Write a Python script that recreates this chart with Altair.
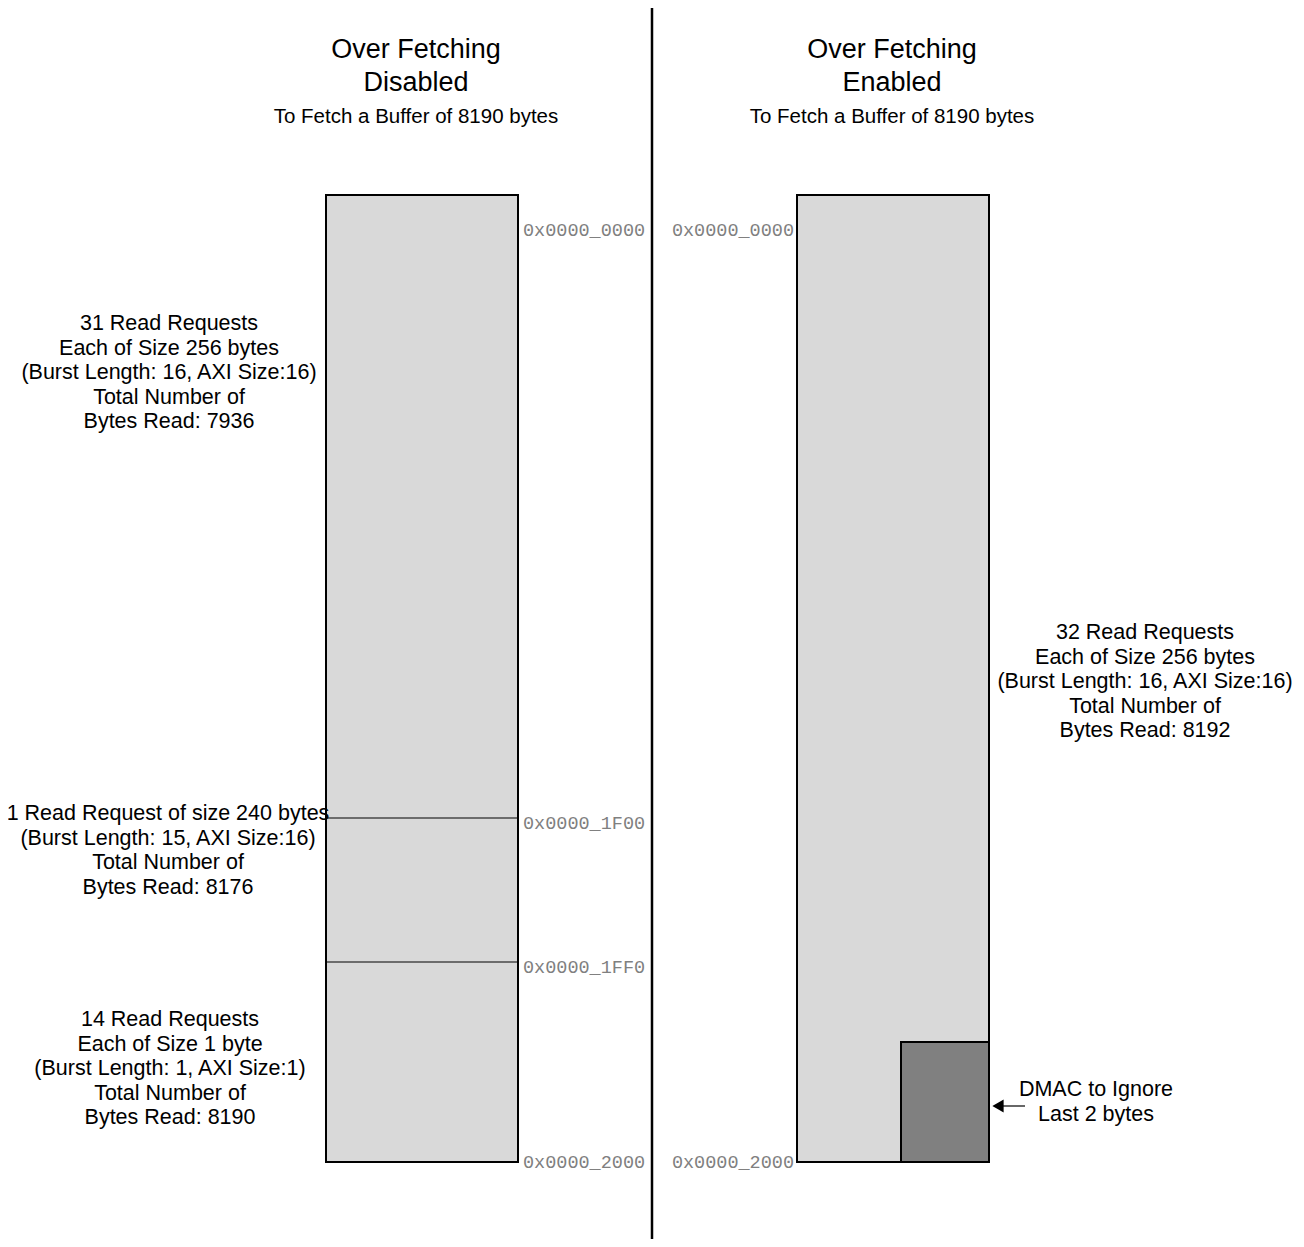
import altair as alt
import pandas as pd

# ---- content ----
panel_titles = ["Over Fetching\nDisabled", "Over Fetching\nEnabled"]
panel_subtitle = "To Fetch a Buffer of 8190 bytes"
panel_cx = [416, 892]

left_addresses = ["0x0000_0000", "0x0000_1F00", "0x0000_1FF0", "0x0000_2000"]
left_addr_y = [230, 823, 967, 1162]
right_addresses = ["0x0000_0000", "0x0000_2000"]
right_addr_y = [230, 1162]

left_blocks = [
    "31 Read Requests\nEach of Size 256 bytes\n(Burst Length: 16, AXI Size:16)\nTotal Number of\nBytes Read: 7936",
    "1 Read Request of size 240 bytes\n(Burst Length: 15, AXI Size:16)\nTotal Number of\nBytes Read: 8176",
    "14 Read Requests\nEach of Size 1 byte\n(Burst Length: 1, AXI Size:1)\nTotal Number of\nBytes Read: 8190",
]
left_block_x = [169, 168, 170]
left_block_top = [324, 814, 1020]

right_block = "32 Read Requests\nEach of Size 256 bytes\n(Burst Length: 16, AXI Size:16)\nTotal Number of\nBytes Read: 8192"
right_block_xy = (1145, 633)
dmac_note = "DMAC to Ignore\nLast 2 bytes"
dmac_xy = (1096, 1090)

# ---- layout (diagram units = page pixels) ----
box_x0 = [326, 797, 901]
box_x1 = [518, 989, 989]
box_y0 = [195, 195, 1042]
box_y1 = [1162, 1162, 1162]
box_fill = ["#d9d9d9", "#d9d9d9", "#808080"]
split_y = [818, 962]
divider_x = 652

W, H = 1288, 1231
xs = alt.Scale(domain=[8, 8 + W], nice=False, zero=False)
ys = alt.Scale(domain=[8, 8 + H], nice=False, zero=False, reverse=True)
X = lambda f: alt.X(f, type="quantitative", scale=xs, axis=None)
Y = lambda f: alt.Y(f, type="quantitative", scale=ys, axis=None)

boxes = pd.DataFrame({"x0": box_x0, "x1": box_x1, "y0": box_y0, "y1": box_y1, "fill": box_fill})
box_layer = alt.Chart(boxes).mark_rect(stroke="black", strokeWidth=2).encode(
    x=X("x0"), x2="x1", y=Y("y0"), y2="y1",
    fill=alt.Fill("fill:N", scale=None),
)

splits = pd.DataFrame({"y": split_y, "x0": [box_x0[0]] * 2, "x1": [box_x1[0]] * 2})
split_layer = alt.Chart(splits).mark_rule(color="black", strokeWidth=1.2).encode(
    x=X("x0"), x2="x1", y=Y("y")
)

div = pd.DataFrame({"x": [divider_x], "y0": [6], "y1": [1250]})
div_layer = alt.Chart(div).mark_rule(color="black", strokeWidth=2.5).encode(
    x=X("x"), y=Y("y0"), y2="y1"
)

arrow = pd.DataFrame({"x0": [1002], "x1": [1025], "y": [1106]})
arrow_line = alt.Chart(arrow).mark_rule(color="black", strokeWidth=1.2).encode(
    x=X("x0"), x2="x1", y=Y("y")
)
head = pd.DataFrame({"x": [998], "y": [1106]})
arrow_head = alt.Chart(head).mark_point(shape="triangle-left", filled=True, color="black", size=170, opacity=1).encode(
    x=X("x"), y=Y("y")
)

titles = pd.DataFrame({"t": panel_titles, "x": panel_cx, "y": [50, 50]})
title_layer = alt.Chart(titles).mark_text(
    font="Liberation Sans", fontSize=27, lineBreak="\n", lineHeight=33, baseline="middle", align="center", color="black"
).encode(x=X("x"), y=Y("y"), text="t:N")

subs = pd.DataFrame({"t": [panel_subtitle] * 2, "x": panel_cx, "y": [117, 117]})
sub_layer = alt.Chart(subs).mark_text(
    font="Liberation Sans", fontSize=20.5, baseline="middle", align="center", color="black"
).encode(x=X("x"), y=Y("y"), text="t:N")

blocks = pd.DataFrame({
    "t": left_blocks + [right_block, dmac_note],
    "x": left_block_x + [right_block_xy[0], dmac_xy[0]],
    "y": left_block_top + [right_block_xy[1], dmac_xy[1]],
})
block_layer = alt.Chart(blocks).mark_text(
    font="Liberation Sans", fontSize=21.5, lineBreak="\n", lineHeight=24.5, baseline="middle", align="center", color="black"
).encode(x=X("x"), y=Y("y"), text="t:N")

laddr = pd.DataFrame({"t": left_addresses, "x": [523] * 4, "y": left_addr_y})
laddr_layer = alt.Chart(laddr).mark_text(
    font="Liberation Mono", fontSize=18.5, baseline="middle", align="left", color="#808080"
).encode(x=X("x"), y=Y("y"), text="t:N")

raddr = pd.DataFrame({"t": right_addresses, "x": [794] * 2, "y": right_addr_y})
raddr_layer = alt.Chart(raddr).mark_text(
    font="Liberation Mono", fontSize=18.5, baseline="middle", align="right", color="#808080"
).encode(x=X("x"), y=Y("y"), text="t:N")

chart = alt.layer(
    div_layer, box_layer, split_layer, arrow_line, arrow_head,
    title_layer, sub_layer, block_layer, laddr_layer, raddr_layer,
).properties(
    width=W, height=H, padding=0, autosize=alt.AutoSizeParams(type="none"), background="white"
).configure_view(stroke=None)

chart.save("out.html", embed_options={"renderer": "svg", "actions": False})
